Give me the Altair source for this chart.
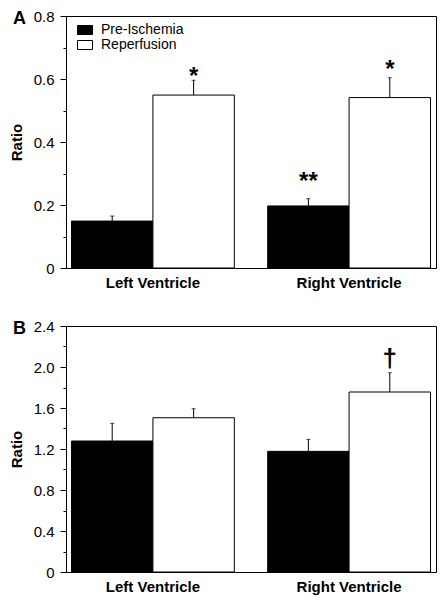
import altair as alt
import pandas as pd

groups = ["Left Ventricle", "Right Ventricle"]
series = ["Pre-Ischemia", "Reperfusion"]

bar_group = ["Left Ventricle", "Left Ventricle", "Right Ventricle", "Right Ventricle"]
bar_series = ["Pre-Ischemia", "Reperfusion", "Pre-Ischemia", "Reperfusion"]

a_mean = [0.149, 0.549, 0.197, 0.541]
a_err = [0.016, 0.047, 0.023, 0.063]
b_mean = [1.278, 1.505, 1.177, 1.756]
b_err = [0.172, 0.088, 0.117, 0.188]

a_ann_group = ["Left Ventricle", "Right Ventricle", "Right Ventricle"]
a_ann_series = ["Reperfusion", "Pre-Ischemia", "Reperfusion"]
a_ann_text = ["*", "**", "*"]
a_ann_y = [0.625, 0.292, 0.648]

b_ann_group = ["Right Ventricle"]
b_ann_series = ["Reperfusion"]
b_ann_text = ["\u2020"]
b_ann_y = [2.117]

a_major = [0, 0.2, 0.4, 0.6, 0.8]
a_minor = [0.1, 0.3, 0.5, 0.7]
b_major = [0, 0.4, 0.8, 1.2, 1.6, 2.0, 2.4]
b_minor = [0.2, 0.6, 1.0, 1.4, 1.8, 2.2]

FONT = "Liberation Sans"


def panel(mean, err, ann_group, ann_series, ann_text, ann_y, domain, major, minor,
          height, letter, leg_x, leg_y, ann_size, ann_dy):
    df = pd.DataFrame({
        "group": bar_group,
        "series": bar_series,
        "mean": mean,
        "top": [m + e for m, e in zip(mean, err)],
    })
    ann = pd.DataFrame({"group": ann_group, "series": ann_series,
                        "t": ann_text, "y": ann_y})
    x = alt.X("group:N", sort=groups, title=None,
              scale=alt.Scale(paddingInner=0.17, paddingOuter=0.028),
              axis=alt.Axis(labelFontSize=15, labelFontWeight="bold", labelAngle=0,
                            ticks=False, domain=False, labelPadding=7))
    xo = alt.XOffset("series:N", sort=series,
                     scale=alt.Scale(paddingInner=0, paddingOuter=0))
    yscale = alt.Scale(domain=domain, nice=False, zero=True)
    y = alt.Y("mean:Q", scale=yscale, title="Ratio",
              axis=alt.Axis(values=major, grid=False, tickSize=6, labelFontSize=15,
                            labelPadding=6, titleFontSize=15, titleFontWeight="bold",
                            titlePadding=9,
                            labelExpr="datum.value == 0 ? '0' : format(datum.value, '.1f')"))
    fill = alt.Fill("series:N", sort=series,
                    scale=alt.Scale(domain=series, range=["black", "white"]),
                    legend=alt.Legend(title=None, orient="none", legendX=leg_x, legendY=leg_y,
                                      symbolType="M-1,-0.6H1V0.6H-1Z", symbolSize=225,
                                      symbolStrokeColor="black", symbolStrokeWidth=1,
                                      labelFontSize=14, labelFont=FONT, labelColor="black",
                                      labelOffset=8, rowPadding=-1, padding=0))
    base = alt.Chart(df)
    bars = base.mark_bar(stroke="black", strokeWidth=1).encode(x=x, xOffset=xo, y=y, fill=fill)
    rules = base.mark_rule(color="black", strokeWidth=1).encode(
        x=x, xOffset=xo, y=alt.Y("mean:Q"), y2="top:Q")
    caps = base.mark_tick(color="black", size=4, thickness=1).encode(
        x=x, xOffset=xo, y=alt.Y("top:Q"))
    txt = alt.Chart(ann).mark_text(fontSize=ann_size, fontWeight="bold", color="black",
                                   font=FONT, baseline="middle", dy=ann_dy).encode(
        x=x, xOffset=xo, y=alt.Y("y:Q"), text="t:N")
    lab = alt.Chart(pd.DataFrame({"l": [letter]})).mark_text(
        fontSize=18, fontWeight="bold", font=FONT, color="black", align="left",
        baseline="middle").encode(x=alt.value(-53), y=alt.value(3), text="l:N")
    main = alt.layer(bars, rules, caps, txt, lab)
    minor_layer = base.mark_bar(opacity=0).encode(
        x=x, xOffset=xo,
        y=alt.Y("mean:Q", scale=yscale,
                axis=alt.Axis(orient="left", values=minor, labels=False, domain=False,
                              grid=False, tickSize=3, title=None)))
    return alt.layer(main, minor_layer).resolve_scale(y="independent").properties(
        width=370, height=height)


pA = panel(a_mean, a_err, a_ann_group, a_ann_series, a_ann_text, a_ann_y,
           [0, 0.8], a_major, a_minor, 252, "A", 11, 6, 24, 6)
pB = panel(b_mean, b_err, b_ann_group, b_ann_series, b_ann_text, b_ann_y,
           [0, 2.4], b_major, b_minor, 246, "B", 8, 4, 26, 4)

chart = alt.vconcat(pA, pB, spacing=27).resolve_scale(color="independent").properties(
    padding={"left": 0, "top": 0, "right": 0, "bottom": 0}
).configure_view(stroke="black", strokeWidth=1).configure_axis(
    labelFont=FONT, titleFont=FONT, labelColor="black", titleColor="black",
    tickColor="black", domainColor="black"
)

chart.save("out.html", embed_options={"renderer": "svg", "actions": False})
